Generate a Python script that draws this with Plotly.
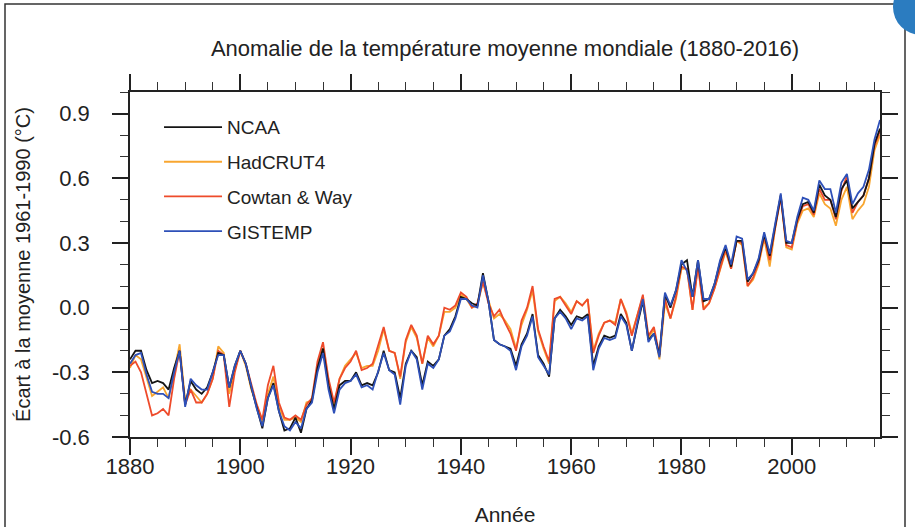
import plotly.graph_objects as go

# annual anomalies (degC, vs 1961-1990)
years = list(range(1880, 2017))

ncaa = [
    -0.24, -0.20, -0.20, -0.29, -0.35, -0.34, -0.35, -0.38, -0.28, -0.20,
    -0.45, -0.34, -0.38, -0.40, -0.37, -0.30, -0.21, -0.22, -0.37, -0.27,
    -0.20, -0.26, -0.37, -0.47, -0.56, -0.42, -0.35, -0.48, -0.57, -0.56,
    -0.51, -0.58, -0.47, -0.43, -0.28, -0.19, -0.36, -0.47, -0.36, -0.34,
    -0.34, -0.30, -0.36, -0.35, -0.36, -0.30, -0.20, -0.29, -0.30, -0.42,
    -0.26, -0.20, -0.23, -0.36, -0.25, -0.27, -0.24, -0.13, -0.10, -0.04,
    0.05, 0.04, 0.02, 0.01, 0.16, 0.03, -0.15, -0.17, -0.18, -0.19,
    -0.27, -0.17, -0.12, -0.03, -0.22, -0.26, -0.32, -0.05, -0.01, -0.04,
    -0.08, -0.04, -0.05, -0.03, -0.27, -0.18, -0.13, -0.14, -0.13, -0.03,
    -0.07, -0.20, -0.08, 0.03, -0.15, -0.12, -0.22, 0.06, 0.00, 0.08,
    0.20, 0.22, 0.05, 0.22, 0.03, 0.04, 0.11, 0.21, 0.28, 0.19,
    0.31, 0.31, 0.12, 0.16, 0.22, 0.34, 0.24, 0.38, 0.52, 0.30,
    0.30, 0.41, 0.48, 0.49, 0.44, 0.57, 0.52, 0.50, 0.42, 0.55,
    0.59, 0.46, 0.49, 0.52, 0.60, 0.76, 0.83,
]

hadcrut4 = [
    -0.28, -0.22, -0.24, -0.33, -0.41, -0.39, -0.37, -0.42, -0.30, -0.17,
    -0.43, -0.38, -0.41, -0.44, -0.40, -0.33, -0.18, -0.21, -0.40, -0.29,
    -0.20, -0.27, -0.38, -0.46, -0.53, -0.40, -0.32, -0.46, -0.52, -0.52,
    -0.51, -0.53, -0.44, -0.43, -0.27, -0.19, -0.36, -0.46, -0.33, -0.27,
    -0.24, -0.21, -0.28, -0.27, -0.27, -0.20, -0.10, -0.20, -0.21, -0.33,
    -0.16, -0.09, -0.14, -0.26, -0.14, -0.18, -0.13, -0.02, -0.02, 0.00,
    0.06, 0.04, 0.00, 0.01, 0.12, 0.03, -0.05, -0.03, -0.06, -0.10,
    -0.19, -0.08, -0.01, 0.08, -0.11, -0.19, -0.26, 0.03, 0.05, 0.02,
    -0.02, 0.03, 0.01, 0.04, -0.20, -0.12, -0.07, -0.06, -0.07, 0.04,
    -0.02, -0.12, -0.04, 0.05, -0.14, -0.10, -0.24, 0.02, -0.05, 0.04,
    0.18, 0.18, -0.01, 0.20, 0.00, 0.02, 0.09, 0.18, 0.26, 0.18,
    0.31, 0.29, 0.10, 0.13, 0.20, 0.32, 0.19, 0.37, 0.52, 0.28,
    0.27, 0.39, 0.45, 0.46, 0.42, 0.53, 0.48, 0.46, 0.38, 0.50,
    0.56, 0.41, 0.45, 0.48, 0.56, 0.73, 0.80,
]

cowtan_way = [
    -0.27, -0.25, -0.30, -0.40, -0.50, -0.49, -0.47, -0.50, -0.33, -0.20,
    -0.45, -0.38, -0.44, -0.44, -0.40, -0.33, -0.20, -0.22, -0.46, -0.30,
    -0.20, -0.26, -0.36, -0.45, -0.52, -0.36, -0.27, -0.44, -0.51, -0.52,
    -0.50, -0.52, -0.45, -0.42, -0.25, -0.16, -0.33, -0.44, -0.33, -0.28,
    -0.25, -0.20, -0.29, -0.28, -0.26, -0.18, -0.09, -0.20, -0.21, -0.32,
    -0.15, -0.08, -0.13, -0.26, -0.13, -0.17, -0.13, 0.00, -0.01, 0.01,
    0.07, 0.05, 0.00, 0.02, 0.12, 0.02, -0.04, -0.01, -0.07, -0.12,
    -0.20, -0.06, 0.00, 0.10, -0.10, -0.18, -0.25, 0.04, 0.05, 0.01,
    -0.03, 0.03, 0.01, 0.04, -0.21, -0.13, -0.07, -0.06, -0.08, 0.04,
    -0.03, -0.13, -0.04, 0.06, -0.13, -0.09, -0.22, 0.04, -0.05, 0.05,
    0.19, 0.18, -0.01, 0.19, -0.01, 0.02, 0.09, 0.18, 0.27, 0.18,
    0.31, 0.30, 0.10, 0.14, 0.21, 0.33, 0.22, 0.37, 0.51, 0.29,
    0.28, 0.40, 0.47, 0.48, 0.43, 0.55, 0.50, 0.50, 0.41, 0.54,
    0.61, 0.44, 0.49, 0.52, 0.60, 0.75, 0.82,
]

gistemp = [
    -0.26, -0.22, -0.21, -0.31, -0.39, -0.40, -0.40, -0.42, -0.30, -0.20,
    -0.46, -0.33, -0.36, -0.38, -0.38, -0.30, -0.22, -0.22, -0.37, -0.27,
    -0.20, -0.26, -0.37, -0.47, -0.55, -0.42, -0.36, -0.48, -0.55, -0.57,
    -0.53, -0.56, -0.47, -0.44, -0.30, -0.21, -0.38, -0.49, -0.38, -0.35,
    -0.34, -0.31, -0.37, -0.36, -0.38, -0.30, -0.21, -0.29, -0.31, -0.45,
    -0.27, -0.20, -0.24, -0.38, -0.26, -0.28, -0.24, -0.13, -0.11, -0.05,
    0.04, 0.04, 0.01, 0.00, 0.15, 0.03, -0.15, -0.17, -0.18, -0.20,
    -0.29, -0.18, -0.13, -0.04, -0.23, -0.27, -0.31, -0.05, -0.02, -0.05,
    -0.10, -0.05, -0.06, -0.04, -0.29, -0.19, -0.14, -0.15, -0.14, -0.04,
    -0.08, -0.20, -0.07, 0.04, -0.16, -0.12, -0.23, 0.07, 0.01, 0.08,
    0.22, 0.17, 0.05, 0.22, 0.04, 0.04, 0.11, 0.22, 0.29, 0.20,
    0.33, 0.32, 0.13, 0.16, 0.23, 0.35, 0.25, 0.39, 0.53, 0.31,
    0.30, 0.42, 0.51, 0.50, 0.45, 0.59, 0.55, 0.55, 0.44, 0.58,
    0.62, 0.48, 0.53, 0.56, 0.64, 0.78, 0.87,
]

ytick_vals = [-0.6, -0.3, 0.0, 0.3, 0.6, 0.9]
ytick_text = ["-0.6", "-0.3", "0.0", "0.3", "0.6", "0.9"]

FONT = "Liberation Sans, Arial, Helvetica, sans-serif"

fig = go.Figure()

# drawing order: orange/red under black/blue, legend order kept by rank
series = [
    ("HadCRUT4", hadcrut4, "#f8a630", 2),
    ("Cowtan & Way", cowtan_way, "#ee4b2b", 3),
    ("NCAA", ncaa, "#151515", 1),
    ("GISTEMP", gistemp, "#2e50b8", 4),
]
for name, vals, col, rank in series:
    fig.add_trace(go.Scatter(x=years, y=vals, mode="lines", name=name,
                             line=dict(color=col, width=1.8),
                             legendrank=rank, legendgroup=name))

fig.update_layout(
    width=915, height=527,
    margin=dict(l=130, r=35, t=92, b=90, autoexpand=False),
    paper_bgcolor="white", plot_bgcolor="white",
    font=dict(family=FONT, color="#222"),
    title=dict(text="Anomalie de la température moyenne mondiale (1880-2016)",
               x=0.5, xref="paper", y=1 - 48 / 527, yref="container",
               yanchor="middle", font=dict(size=22, color="#222")),
    legend=dict(x=0.0387, y=0.953, xanchor="left", yanchor="top",
                bgcolor="rgba(0,0,0,0)", font=dict(size=19, color="#222"),
                tracegroupgap=7, itemwidth=58),
    showlegend=True,
)

fig.update_xaxes(
    range=[1880, 2016], tick0=1880, dtick=20, automargin=False,
    showline=True, linecolor="#222", linewidth=1.5, mirror="allticks",
    ticks="outside", ticklen=16, tickwidth=1.5, tickcolor="#222",
    minor=dict(ticks="outside", ticklen=8, tickwidth=1.2, tickcolor="#333",
               dtick=5, tick0=1880),
    showgrid=False, zeroline=False,
    tickfont=dict(size=22), ticklabelstandoff=-7,
    title=dict(text="Année", font=dict(size=21), standoff=29),
)

fig.update_yaxes(
    range=[-0.6, 1.0], tickmode="array", tickvals=ytick_vals, ticktext=ytick_text,
    automargin=False,
    showline=True, linecolor="#222", linewidth=1.5, mirror="allticks",
    ticks="outside", ticklen=16, tickwidth=1.5, tickcolor="#222",
    minor=dict(ticks="outside", ticklen=8, tickwidth=1.2, tickcolor="#333",
               dtick=0.1, tick0=0),
    showgrid=False, zeroline=False,
    tickfont=dict(size=22), ticklabelstandoff=18,
    title=dict(text="Écart à la moyenne 1961-1990 (°C)", font=dict(size=20),
               standoff=16),
)

# image frame and the blue corner badge
fig.add_shape(type="rect", xref="paper", yref="paper",
              x0=(5 - 130) / 750, x1=(905 - 130) / 750,
              y0=1 - (540 - 92) / 345, y1=1 - (4 - 92) / 345,
              line=dict(color="#333", width=1.5), layer="below")
fig.add_shape(type="circle", xref="paper", yref="paper",
              x0=(893 - 130) / 750, x1=(949 - 130) / 750,
              y0=1 - (35 - 92) / 345, y1=1 - (-21 - 92) / 345,
              fillcolor="#2b7cc0", line=dict(width=0))

# drop the default body margin so the figure sits at the window's corner
fig.write_html("out.html", config={"displayModeBar": False},
               post_script="document.body.style.margin='0';")
